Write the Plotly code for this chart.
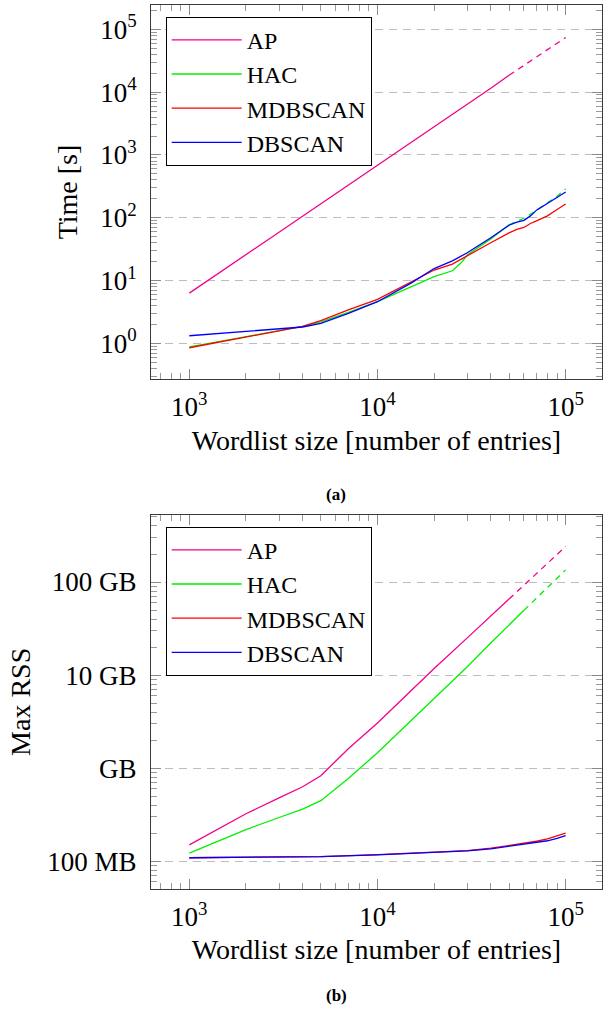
import plotly.graph_objects as go

# ---------------- data ----------------
# (a) Time [s]
ap_size = [1000, 2000, 5000, 10000, 20000, 30000, 40000, 50000]
ap_time = [6.3, 25.7, 166, 676, 2750, 6400, 11500, 18500]
ap_size_est = [50000, 100000]
ap_time_est = [18500, 74000]

hac_size = [1000, 2000, 3000, 4000, 5000, 7000, 10000, 15000, 20000, 25000, 28000, 30000, 40000, 50000]
hac_time = [0.88, 1.28, 1.58, 1.86, 2.2, 3.1, 4.6, 7.8, 11.5, 14.3, 19.5, 25.5, 46, 77]
hac_size_est = [50000, 60000, 70000, 80000, 90000, 100000]
hac_time_est = [77, 98, 132, 174, 219, 288]

db_size = [1000, 2000, 3000, 4000, 5000, 7000, 10000, 15000, 20000, 25000, 30000, 40000,
           50000, 55000, 60000, 65000, 70000, 80000, 90000, 100000]
mdb_time = [0.85, 1.25, 1.57, 1.86, 2.29, 3.4, 5.0, 9.3, 14.7, 18.3, 24.5, 40,
            57.5, 65, 70, 81, 89, 107, 135, 165]
dbs_time = [1.32, 1.54, 1.68, 1.82, 2.08, 3.0, 4.6, 9.0, 15.5, 20.5, 27.7, 47.9,
            75.9, 85, 91, 107, 132, 170, 214, 257]

# (b) Max RSS [MB]
ap_rss_size = [1000, 2000, 3000, 4000, 5000, 7000, 10000, 20000, 30000, 40000, 50000]
ap_rss = [150, 324, 479, 631, 830, 1620, 3050, 11750, 25100, 43300, 65600]
ap_rss_size_est = [50000, 100000]
ap_rss_est = [65600, 241000]

hac_rss_size = [1000, 2000, 3000, 4000, 5000, 7000, 10000, 20000, 30000, 40000, 50000, 60000]
hac_rss = [122, 219, 295, 363, 447, 776, 1466, 5650, 12300, 22100, 34700, 49700]
hac_rss_size_est = [60000, 100000]
hac_rss_est = [49700, 135000]

db_rss_size = [1000, 2000, 5000, 10000, 20000, 30000, 40000, 50000, 60000, 70000, 80000, 90000, 100000]
mdb_rss = [109, 110, 112, 118, 124, 130, 138, 147, 156, 164, 174, 186, 200]
dbs_rss = [109, 110, 112, 117, 123, 129, 136, 145, 153, 158, 166, 176, 188]

x_tick_vals = [1e3, 1e4, 1e5]
x_tick_text = ["10<sup>3</sup>", "10<sup>4</sup>", "10<sup>5</sup>"]
t_tick_vals = [1, 10, 100, 1e3, 1e4, 1e5]
t_tick_text = ["10<sup>0</sup>", "10<sup>1</sup>", "10<sup>2</sup>", "10<sup>3</sup>",
               "10<sup>4</sup>", "10<sup>5</sup>"]
rss_tick_vals = [100, 1000, 10000, 100000]
rss_tick_text = ["100 MB", "GB", "10 GB", "100 GB"]

# ---------------- styling ----------------
FONT = "Liberation Serif, Times New Roman, serif"
C_AP = "#f2008c"
C_HAC = "#00f000"
C_MDB = "#ff0000"
C_DB = "#0000ff"
LW = 1.3

W, H = 603, 1019
fig = go.Figure()


def add(x, y, name, color, xa, ya, leg, show=True, dash="solid"):
    fig.add_trace(go.Scatter(
        x=x, y=y, name=name, mode="lines",
        line=dict(color=color, width=LW, dash=dash),
        xaxis=xa, yaxis=ya, legend=leg, legendgroup=name + leg,
        showlegend=show, hoverinfo="skip"))


# top chart
add(ap_size, ap_time, "AP", C_AP, "x", "y", "legend")
add(ap_size_est, ap_time_est, "AP", C_AP, "x", "y", "legend", False, "6px,5px")
add(hac_size, hac_time, "HAC", C_HAC, "x", "y", "legend")
add(hac_size_est, hac_time_est, "HAC", C_HAC, "x", "y", "legend", False, "6px,5px")
add(db_size, mdb_time, "MDBSCAN", C_MDB, "x", "y", "legend")
add(db_size, dbs_time, "DBSCAN", C_DB, "x", "y", "legend")

# bottom chart
add(ap_rss_size, ap_rss, "AP", C_AP, "x2", "y2", "legend2")
add(ap_rss_size_est, ap_rss_est, "AP", C_AP, "x2", "y2", "legend2", False, "6px,5px")
add(hac_rss_size, hac_rss, "HAC", C_HAC, "x2", "y2", "legend2")
add(hac_rss_size_est, hac_rss_est, "HAC", C_HAC, "x2", "y2", "legend2", False, "6px,5px")
add(db_rss_size, mdb_rss, "MDBSCAN", C_MDB, "x2", "y2", "legend2")
add(db_rss_size, dbs_rss, "DBSCAN", C_DB, "x2", "y2", "legend2")

minor_vals = [m * 10 ** e for e in range(-1, 6) for m in range(2, 10)]

x_dom = [151 / W, 602 / W]
top_dom = [1 - 379 / H, 1 - 5 / H]
bot_dom = [1 - 888.7 / H, 1 - 515 / H]

common = dict(
    type="log", showline=True, linecolor="#3a3a3a", linewidth=1, mirror="ticks",
    ticks="inside", ticklen=10, tickwidth=1, tickcolor="#8a8a8a",
    tickfont=dict(family=FONT, size=27, color="black"),
    minor=dict(ticks="inside", ticklen=6, tickwidth=1, tickcolor="#9a9a9a",
               tickmode="array", tickvals=minor_vals, showgrid=False),
    zeroline=False, automargin=False,
)
xcommon = dict(common, tickmode="array", tickvals=x_tick_vals, ticktext=x_tick_text,
               range=[2.7965, 5.193], domain=x_dom, showgrid=False,
               ticklabelstandoff=4,
               title=dict(text="Wordlist size [number of entries]",
                          font=dict(family=FONT, size=28, color="black"), standoff=8))
grid = dict(showgrid=True, gridcolor="#bdbdbd", gridwidth=1, griddash="8px,6px")

LEG_FONT = dict(family=FONT, size=24, color="black")

fig.update_layout(
    width=W, height=H,
    margin=dict(l=0, r=0, t=0, b=0, pad=0),
    paper_bgcolor="white", plot_bgcolor="white",
    font=dict(family=FONT, color="black"),
    xaxis=dict(xcommon, anchor="y"),
    yaxis=dict(common, **grid, tickmode="array", tickvals=t_tick_vals, ticktext=t_tick_text,
               range=[-0.568, 5.387], domain=top_dom, anchor="x", ticklabelstandoff=8,
               title=dict(text="Time [s]", font=dict(family=FONT, size=28, color="black"),
                          standoff=14)),
    xaxis2=dict(xcommon, anchor="y2"),
    yaxis2=dict(common, **grid, tickmode="array", tickvals=rss_tick_vals, ticktext=rss_tick_text,
                range=[1.705, 5.72], domain=bot_dom, anchor="x2", ticklabelstandoff=8,
                title=dict(text="Max RSS", font=dict(family=FONT, size=28, color="black"),
                           standoff=8)),
    legend=dict(x=165.7 / W, y=1 - 16.7 / H, xanchor="left", yanchor="top",
                bgcolor="white", bordercolor="black", borderwidth=1,
                font=LEG_FONT, itemwidth=70, tracegroupgap=0),
    legend2=dict(x=165.7 / W, y=1 - 526.7 / H, xanchor="left", yanchor="top",
                 bgcolor="white", bordercolor="black", borderwidth=1,
                 font=LEG_FONT, itemwidth=70, tracegroupgap=0),
    annotations=[
        dict(text="<b>(a)</b>", x=336 / W, y=1 - 494 / H, xref="paper", yref="paper",
             showarrow=False, font=dict(family=FONT, size=17, color="black")),
        dict(text="<b>(b)</b>", x=336 / W, y=1 - 1007 / H, xref="paper", yref="paper",
             showarrow=False, font=dict(family=FONT, size=17, color="black")),
    ],
    showlegend=True,
)

fig.write_html("out.html", config={"displayModeBar": False},
               post_script="document.body.style.margin='0';")
